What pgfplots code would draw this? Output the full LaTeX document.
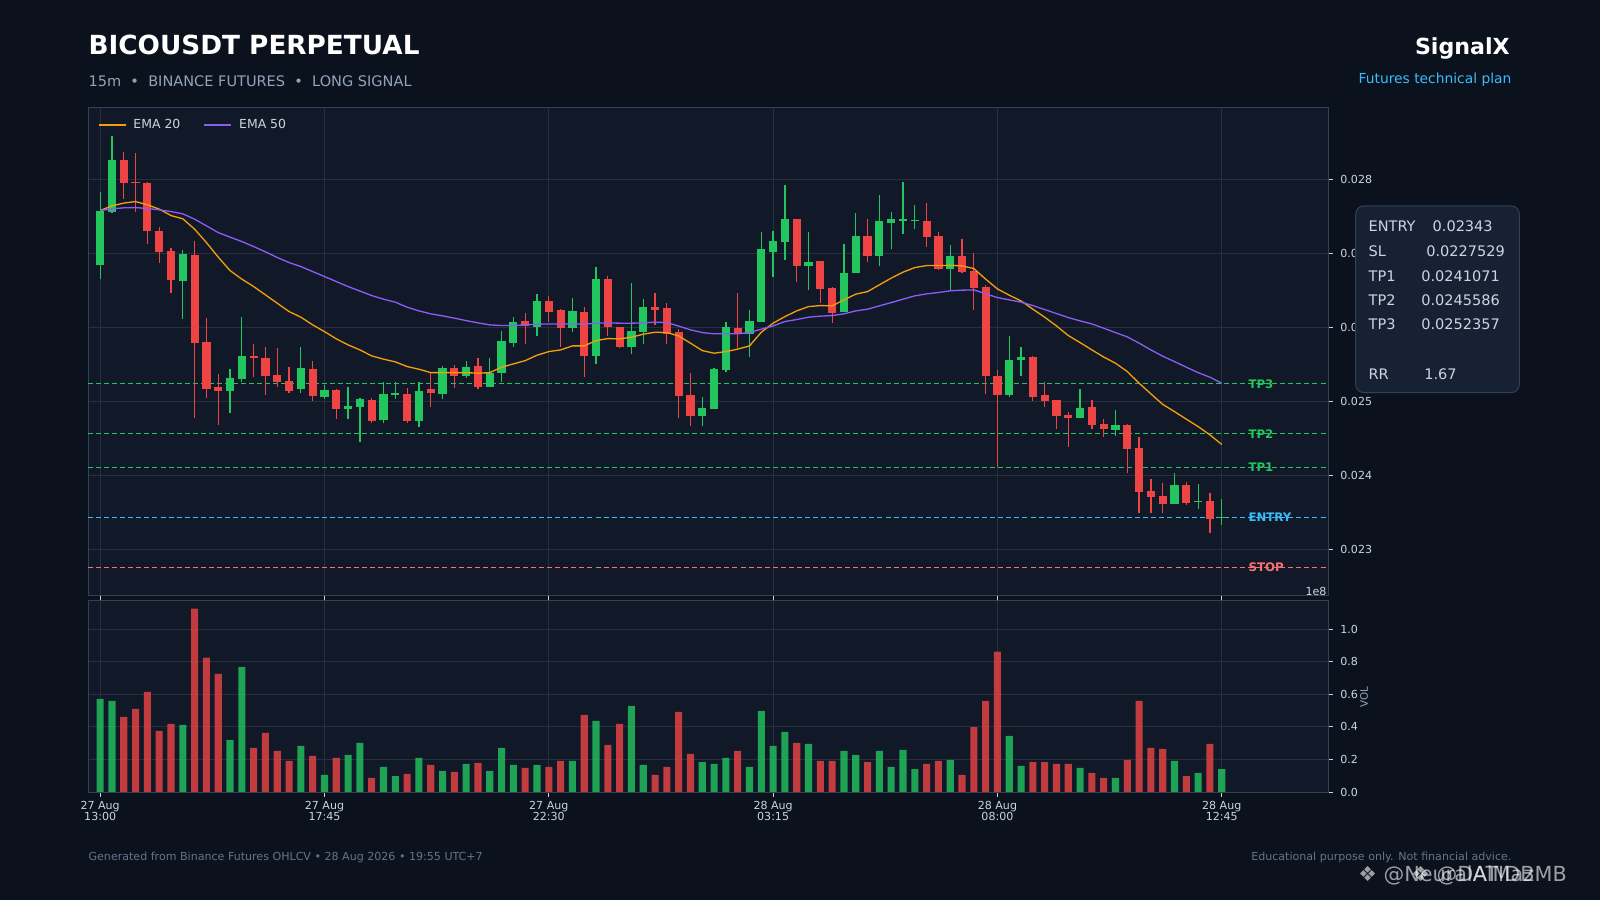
\documentclass[border=0pt]{standalone}
\usepackage{fontspec}
\setmainfont{DejaVu Sans}
\usepackage{pgfplots}
\usepackage{pgfplotstable}
\pgfplotsset{compat=1.18}
\definecolor{figbg}{RGB}{11,17,29}
\definecolor{axbg}{RGB}{17,24,39}
\definecolor{spine}{RGB}{51,65,85}
\definecolor{gridc}{RGB}{38,47,62}
\definecolor{ticklab}{RGB}{203,213,225}
\definecolor{subc}{RGB}{148,163,184}
\definecolor{footc}{RGB}{100,116,139}
\definecolor{upc}{RGB}{34,197,94}
\definecolor{dnc}{RGB}{239,68,68}
\definecolor{emaA}{RGB}{245,158,11}
\definecolor{emaB}{RGB}{139,92,246}
\definecolor{entryc}{RGB}{56,189,248}
\definecolor{stopc}{RGB}{248,113,113}
\definecolor{boxfill}{RGB}{23,33,52}

\pgfplotstableread{
i O H L C
0 0.026842 0.027832 0.026649 0.027576
1 0.027562 0.028576 0.027545 0.028261
7 0.026630 0.027045 0.026108 0.026991
11 0.025143 0.025432 0.024846 0.025315
12 0.025297 0.026143 0.025265 0.025612
17 0.025162 0.025738 0.025108 0.025450
19 0.025062 0.025220 0.025027 0.025153
21 0.024900 0.025197 0.024757 0.024936
22 0.024919 0.025044 0.024454 0.025027
24 0.024747 0.025265 0.024702 0.025099
25 0.025089 0.025265 0.025027 0.025112
27 0.024734 0.025265 0.024657 0.025135
29 0.025099 0.025477 0.025027 0.025450
31 0.025346 0.025541 0.025311 0.025463
33 0.025197 0.025581 0.025197 0.025378
34 0.025378 0.025950 0.025265 0.025815
35 0.025792 0.026135 0.025730 0.026068
37 0.026008 0.026446 0.025886 0.026355
40 0.025995 0.026392 0.025940 0.026220
42 0.025612 0.026819 0.025500 0.026649
45 0.025738 0.026594 0.025635 0.025950
46 0.025940 0.026378 0.025770 0.026270
51 0.024801 0.025062 0.024666 0.024910
52 0.024900 0.025454 0.024900 0.025436
53 0.025423 0.026076 0.025392 0.026004
55 0.025913 0.026230 0.025594 0.026085
56 0.026076 0.027292 0.026076 0.027058
57 0.027022 0.027305 0.026676 0.027166
58 0.027157 0.027919 0.026909 0.027464
60 0.026832 0.027292 0.026504 0.026882
63 0.026211 0.027122 0.026211 0.026730
64 0.026738 0.027541 0.026738 0.027234
66 0.026968 0.027784 0.026828 0.027436
67 0.027414 0.027562 0.027054 0.027459
68 0.027441 0.027959 0.027261 0.027464
69 0.027441 0.027653 0.027324 0.027454
72 0.026788 0.027112 0.026504 0.026963
77 0.025089 0.025886 0.025054 0.025558
78 0.025562 0.025730 0.025342 0.025594
83 0.024774 0.025162 0.024774 0.024905
86 0.024612 0.024882 0.024531 0.024680
91 0.023616 0.024027 0.023616 0.023870
93 0.023635 0.023878 0.023540 0.023652
95 0.023423 0.023675 0.023328 0.023430
}\upT

\pgfplotstableread{
i O H L C
2 0.028261 0.028365 0.027730 0.027954
3 0.027964 0.028355 0.027562 0.027946
4 0.027950 0.027964 0.027122 0.027305
5 0.027301 0.027351 0.026865 0.027022
6 0.027031 0.027067 0.026459 0.026639
8 0.026977 0.027170 0.024770 0.025792
9 0.025805 0.026122 0.025040 0.025170
10 0.025197 0.025365 0.024680 0.025143
13 0.025612 0.025770 0.025332 0.025579
14 0.025589 0.025738 0.025081 0.025342
15 0.025355 0.025724 0.025197 0.025265
16 0.025274 0.025468 0.025108 0.025143
18 0.025436 0.025545 0.025008 0.025072
20 0.025153 0.025162 0.024757 0.024900
23 0.025017 0.025040 0.024711 0.024734
26 0.025099 0.025184 0.024702 0.024734
28 0.025166 0.025378 0.024919 0.025112
30 0.025450 0.025486 0.025175 0.025346
32 0.025477 0.025581 0.025162 0.025197
36 0.026085 0.026189 0.025770 0.026022
38 0.026355 0.026427 0.026076 0.026211
39 0.026234 0.026243 0.025738 0.025995
41 0.026207 0.026279 0.025324 0.025612
43 0.026649 0.026697 0.025882 0.026008
44 0.026000 0.026008 0.025716 0.025738
47 0.026270 0.026459 0.026031 0.026234
48 0.026257 0.026324 0.025770 0.025910
49 0.025932 0.025973 0.024770 0.025072
50 0.025085 0.025378 0.024666 0.024801
54 0.025991 0.026459 0.025716 0.025913
59 0.027464 0.027464 0.026608 0.026832
61 0.026896 0.026896 0.026324 0.026522
62 0.026531 0.026549 0.026054 0.026197
65 0.027234 0.027459 0.026886 0.026968
70 0.027436 0.027676 0.027081 0.027224
71 0.027234 0.027292 0.026774 0.026788
73 0.026963 0.027189 0.026730 0.026751
74 0.026761 0.027000 0.026234 0.026535
75 0.026545 0.026572 0.025094 0.025346
76 0.025342 0.025423 0.024108 0.025089
79 0.025603 0.025612 0.025008 0.025062
80 0.025085 0.025265 0.024919 0.025008
81 0.025017 0.025017 0.024622 0.024801
82 0.024815 0.024851 0.024378 0.024774
84 0.024923 0.025017 0.024622 0.024680
85 0.024693 0.024765 0.024513 0.024626
87 0.024680 0.024689 0.024027 0.024359
88 0.024369 0.024522 0.023494 0.023778
89 0.023788 0.023946 0.023486 0.023711
90 0.023720 0.023891 0.023494 0.023616
92 0.023870 0.023905 0.023599 0.023630
94 0.023652 0.023757 0.023224 0.023409
}\dnT

\pgfplotstableread{
i e20 e50
0 0.027576 0.027576
1 0.027639 0.027599
2 0.027676 0.027612
3 0.027697 0.027616
4 0.027653 0.027603
5 0.027595 0.027585
6 0.027508 0.027562
7 0.027464 0.027531
8 0.027324 0.027459
9 0.027143 0.027369
10 0.026946 0.027278
11 0.026765 0.027216
12 0.026649 0.027157
13 0.026549 0.027089
14 0.026436 0.027018
15 0.026324 0.026941
16 0.026211 0.026873
17 0.026135 0.026819
18 0.026031 0.026751
19 0.025940 0.026684
20 0.025842 0.026616
21 0.025761 0.026549
22 0.025693 0.026488
23 0.025612 0.026427
24 0.025568 0.026378
25 0.025531 0.026338
26 0.025468 0.026270
27 0.025432 0.026220
28 0.025386 0.026180
29 0.025386 0.026153
30 0.025386 0.026122
31 0.025386 0.026089
32 0.025378 0.026058
33 0.025386 0.026031
34 0.025459 0.026022
35 0.025504 0.026022
36 0.025548 0.026031
37 0.025621 0.026040
38 0.025670 0.026044
39 0.025693 0.026044
40 0.025747 0.026044
41 0.025747 0.026040
42 0.025819 0.026054
43 0.025846 0.026058
44 0.025842 0.026054
45 0.025865 0.026054
46 0.025905 0.026058
47 0.025932 0.026068
48 0.025927 0.026062
49 0.025882 0.026015
50 0.025784 0.025964
51 0.025684 0.025927
52 0.025648 0.025910
53 0.025670 0.025910
54 0.025703 0.025910
55 0.025747 0.025927
56 0.025932 0.025973
57 0.026054 0.026017
58 0.026143 0.026076
59 0.026220 0.026103
60 0.026278 0.026135
61 0.026292 0.026149
62 0.026288 0.026157
63 0.026369 0.026180
64 0.026446 0.026220
65 0.026481 0.026243
66 0.026572 0.026288
67 0.026662 0.026332
68 0.026743 0.026378
69 0.026805 0.026423
70 0.026832 0.026450
71 0.026832 0.026468
72 0.026835 0.026491
73 0.026828 0.026500
74 0.026792 0.026504
75 0.026649 0.026450
76 0.026517 0.026400
77 0.026432 0.026369
78 0.026355 0.026338
79 0.026243 0.026292
80 0.026135 0.026238
81 0.026017 0.026184
82 0.025887 0.026130
83 0.025792 0.026085
84 0.025693 0.026044
85 0.025597 0.025986
86 0.025513 0.025927
87 0.025400 0.025869
88 0.025243 0.025784
89 0.025099 0.025693
90 0.024957 0.025608
91 0.024859 0.025535
92 0.024757 0.025459
93 0.024657 0.025386
94 0.024545 0.025324
95 0.024416 0.025243
}\emaT

\pgfplotstableread{
i v
0 0.572
1 0.559
7 0.412
11 0.320
12 0.768
17 0.283
19 0.105
21 0.227
22 0.301
24 0.154
25 0.098
27 0.209
29 0.129
31 0.172
33 0.129
34 0.270
35 0.166
37 0.166
40 0.191
42 0.436
45 0.529
46 0.166
51 0.184
52 0.172
53 0.209
55 0.154
56 0.498
57 0.283
58 0.369
60 0.295
63 0.252
64 0.227
66 0.252
67 0.154
68 0.258
69 0.141
72 0.197
77 0.344
78 0.160
83 0.148
86 0.086
91 0.191
93 0.117
95 0.141
}\volUp

\pgfplotstableread{
i v
2 0.461
3 0.510
4 0.615
5 0.375
6 0.418
8 1.125
9 0.824
10 0.725
13 0.270
14 0.363
15 0.252
16 0.191
18 0.221
20 0.209
23 0.086
26 0.111
28 0.166
30 0.123
32 0.178
36 0.148
38 0.154
39 0.191
41 0.473
43 0.289
44 0.418
47 0.105
48 0.154
49 0.492
50 0.234
54 0.252
59 0.301
61 0.191
62 0.191
65 0.184
70 0.172
71 0.191
73 0.105
74 0.398
75 0.559
76 0.861
79 0.184
80 0.184
81 0.172
82 0.172
84 0.117
85 0.086
87 0.197
88 0.559
89 0.270
90 0.264
92 0.098
94 0.295
}\volDn

\pgfplotsset{
  darkax/.style={
    scale only axis, width=892.8bp,
    xmin=-1.03, xmax=104.0,
    axis background/.style={fill=axbg},
    axis line style={draw=spine, line width=0.7bp},
    grid=major, major grid style={draw=gridc, line width=0.6bp},
    xtick={0,19,38,57,76,95},
    tick align=outside, major tick length=3.4bp,
    major tick style={draw=ticklab, line width=0.6bp},
    ticklabel style={font=\fontsize{8}{8}\selectfont, text=ticklab},
    xtick pos=lower, ytick pos=right, yticklabel pos=right,
    scaled y ticks=false, scaled x ticks=false,
    clip=true,
  },
  lvl/.style={line width=0.9bp, dash pattern=on 3.6bp off 2.2bp, forget plot},
}

\begin{document}
\begin{tikzpicture}
\fill[figbg] (0,0) rectangle (1152bp,648bp);
\path[use as bounding box] (0,0) rectangle (1152bp,648bp);

% ---------------- price panel ----------------
\begin{axis}[darkax,
  at={(63.36bp,219.6bp)}, anchor=south west, height=350.64bp,
  ymin=0.022382, ymax=0.028961,
  xticklabels={},
  ytick={0.023,0.024,0.025,0.026,0.027,0.028},
  yticklabels={0.023,0.024,0.025,0.026,0.027,0.028},
  yticklabel style={xshift=2bp},
  legend style={at={(0.0078,0.965)}, anchor=west, draw=none, fill=none,
    legend columns=2, font=\fontsize{9}{9}\selectfont, text=ticklab,
    inner sep=0pt,
    /tikz/every odd column/.append style={column sep=3.2bp},
    /tikz/every even column/.append style={column sep=14.8bp}},
  legend image code/.code={\draw[#1] (0bp,0bp) -- (19.4bp,0bp);},
]
% level lines
\addplot[lvl, draw=upc] coordinates {(-1.03,0.0252357) (104,0.0252357)};
\addplot[lvl, draw=upc] coordinates {(-1.03,0.0245586) (104,0.0245586)};
\addplot[lvl, draw=upc] coordinates {(-1.03,0.0241071) (104,0.0241071)};
\addplot[lvl, draw=entryc] coordinates {(-1.03,0.02343) (104,0.02343)};
\addplot[lvl, draw=stopc] coordinates {(-1.03,0.0227529) (104,0.0227529)};
% wicks
\addplot[draw=none, mark=none, forget plot,
  error bars/.cd, y dir=plus, y explicit, error mark=none,
  error bar style={draw=upc, line width=0.9bp, line cap=butt, solid}]
  table[x=i, y=L, y error plus expr=\thisrow{H}-\thisrow{L}] {\upT};
\addplot[draw=none, mark=none, forget plot,
  error bars/.cd, y dir=plus, y explicit, error mark=none,
  error bar style={draw=dnc, line width=0.9bp, line cap=butt, solid}]
  table[x=i, y=L, y error plus expr=\thisrow{H}-\thisrow{L}] {\dnT};
% bodies
\addplot[draw=none, mark=none, forget plot,
  error bars/.cd, y dir=plus, y explicit, error mark=none,
  error bar style={draw=upc, line width=5.9bp, line cap=butt, solid}]
  table[x=i, y=O, y error plus expr=\thisrow{C}-\thisrow{O}] {\upT};
\addplot[draw=none, mark=none, forget plot,
  error bars/.cd, y dir=plus, y explicit, error mark=none,
  error bar style={draw=dnc, line width=5.9bp, line cap=butt, solid}]
  table[x=i, y=C, y error plus expr=\thisrow{O}-\thisrow{C}] {\dnT};
% EMAs
\addplot[emaA, line width=0.95bp, mark=none] table[x=i, y=e20] {\emaT};
\addlegendentry{EMA 20}
\addplot[emaB, line width=0.95bp, mark=none] table[x=i, y=e50] {\emaT};
\addlegendentry{EMA 50}
% level labels
\node[anchor=west, inner sep=0pt, text=upc, font=\bfseries\fontsize{8.5}{8.5}\selectfont] at (axis cs:97.25,0.0252357) {TP3};
\node[anchor=west, inner sep=0pt, text=upc, font=\bfseries\fontsize{8.5}{8.5}\selectfont] at (axis cs:97.25,0.0245586) {TP2};
\node[anchor=west, inner sep=0pt, text=upc, font=\bfseries\fontsize{8.5}{8.5}\selectfont] at (axis cs:97.25,0.0241071) {TP1};
\node[anchor=west, inner sep=0pt, text=entryc, font=\bfseries\fontsize{8.5}{8.5}\selectfont] at (axis cs:97.25,0.02343) {ENTRY};
\node[anchor=west, inner sep=0pt, text=stopc, font=\bfseries\fontsize{8.5}{8.5}\selectfont] at (axis cs:97.25,0.0227529) {STOP};
\end{axis}

% ---------------- volume panel ----------------
\begin{axis}[darkax,
  at={(63.36bp,77.76bp)}, anchor=south west, height=138.24bp,
  ymin=0, ymax=1.178,
  xticklabels={{27 Aug\\13:00},{27 Aug\\17:45},{27 Aug\\22:30},{28 Aug\\03:15},{28 Aug\\08:00},{28 Aug\\12:45}},
  xticklabel style={align=center, font=\fontsize{8}{7.8}\selectfont},
  ytick={0,0.2,0.4,0.6,0.8,1.0},
  yticklabels={0.0,0.2,0.4,0.6,0.8,1.0},
  yticklabel style={xshift=2bp},
]
\addplot[ybar, bar width=0.6, bar shift=0pt, draw=none, fill=upc, fill opacity=0.8] table[x=i, y=v] {\volUp};
\addplot[ybar, bar width=0.6, bar shift=0pt, draw=none, fill=dnc, fill opacity=0.8] table[x=i, y=v] {\volDn};
\end{axis}

\node[anchor=base east, inner sep=0pt, text=ticklab, font=\fontsize{8}{8}\selectfont] at (955.2bp,219bp) {1e8};
\node[rotate=90, inner sep=0pt, text=subc, font=\fontsize{7.5}{7.5}\selectfont] at (982.1bp,146.2bp) {VOL};

% ---------------- titles ----------------
\node[anchor=base west, inner sep=0pt, text=white, font=\bfseries\fontsize{19}{19}\selectfont] at (63.6bp,608.9bp) {BICOUSDT PERPETUAL};
\node[anchor=base west, inner sep=0pt, text=subc, font=\fontsize{10.5}{10.5}\selectfont] at (63.6bp,585.8bp) {15m \ • \ BINANCE FUTURES \ • \ LONG SIGNAL};
\node[anchor=base east, inner sep=0pt, text=white, font=\bfseries\fontsize{16}{16}\selectfont] at (1087.2bp,608.4bp) {SignalX};
\node[anchor=base east, inner sep=0pt, text=entryc, font=\fontsize{10}{10}\selectfont] at (1088.4bp,588bp) {Futures technical plan};

% ---------------- info box ----------------
\draw[fill=boxfill, draw=spine, line width=0.7bp, rounded corners=5.8bp] (976.1bp,365.3bp) rectangle (1093.9bp,499.7bp);
\begin{scope}[every node/.style={anchor=west, inner sep=0pt, text=ticklab, font=\fontsize{10.5}{10.5}\selectfont}]
\node at (985.2bp,485.3bp) {ENTRY}; \node at (1031.3bp,485.3bp) {0.02343};
\node at (985.2bp,467.3bp) {SL};    \node at (1026.7bp,467.3bp) {0.0227529};
\node at (985.2bp,449.3bp) {TP1};   \node at (1023.1bp,449.3bp) {0.0241071};
\node at (985.2bp,431.8bp) {TP2};   \node at (1023.1bp,431.8bp) {0.0245586};
\node at (985.2bp,414.3bp) {TP3};   \node at (1023.1bp,414.3bp) {0.0252357};
\node at (985.2bp,378.7bp) {RR};    \node at (1025.3bp,378.7bp) {1.67};
\end{scope}

% ---------------- footer ----------------
\node[anchor=base west, inner sep=0pt, text=footc, font=\fontsize{8}{8}\selectfont] at (63.6bp,28.8bp) {Generated from Binance Futures OHLCV • 28 Aug 2026 • 19:55 UTC+7};
\node[anchor=base east, inner sep=0pt, text=footc, font=\fontsize{8}{8}\selectfont] at (1088.4bp,28.8bp) {Educational purpose only. Not financial advice.};
\node[anchor=base west, inner sep=0pt, text=white, opacity=0.6, font=\fontsize{15}{15}\selectfont] at (977.8bp,13bp) {❖ @NeuralAlMaz};
\node[anchor=base west, inner sep=0pt, text=white, opacity=0.6, font=\fontsize{15}{15}\selectfont] at (1016bp,13bp) {❖ @DATIDBMB};
\end{tikzpicture}
\end{document}
